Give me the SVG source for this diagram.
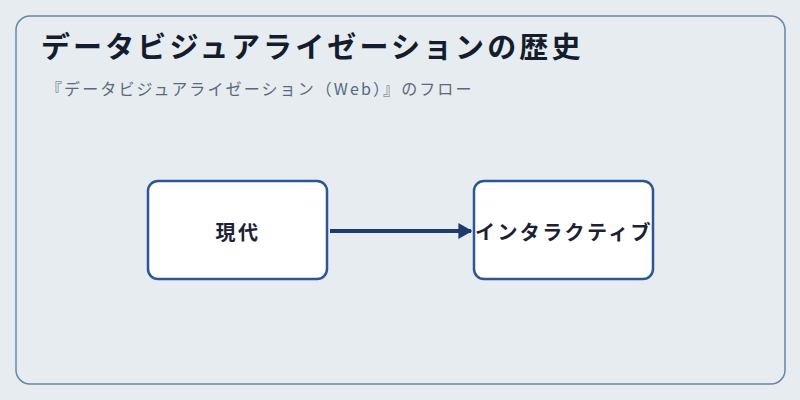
<svg xmlns="http://www.w3.org/2000/svg" width="800" height="400" viewBox="0 0 800 400">
<style>
.node rect{fill:#fff;stroke:#2f5597;stroke-width:2.5}
.lbl{font-family:"Noto Sans CJK JP","Noto Sans",sans-serif;font-weight:bold;font-size:20px;letter-spacing:2.4px;fill:#1a2233;text-anchor:middle;dominant-baseline:central}
</style>
<defs><marker id="ah" viewBox="0 0 10 10" refX="9" refY="5" markerWidth="14" markerHeight="16" markerUnits="userSpaceOnUse" orient="auto" preserveAspectRatio="none"><path d="M0,0L10,5L0,10z" fill="#1f3a6e"/></marker></defs>
<rect width="800" height="400" fill="#e7ecf1"/>
<rect x="16" y="16" width="769" height="368" rx="14" fill="#e7ecf1" stroke="#6b84ad" stroke-width="1.5"/>
<text x="41" y="58" font-family="'Noto Sans CJK JP',sans-serif" font-weight="bold" font-size="29" letter-spacing="3.1" fill="#131d2e">データビジュアライゼーションの歴史</text>
<text x="46" y="95" font-family="'Noto Sans CJK JP',sans-serif" font-size="16" letter-spacing="2.1" fill="#596a80">『データビジュアライゼーション（Web）』のフロー</text>
<g id="connectors"><line x1="330" y1="231" x2="471" y2="231" stroke="#1f3a6e" stroke-width="4" marker-end="url(#ah)"/></g>
<g id="n1" class="node"><rect x="148" y="181" width="179" height="98" rx="10"/><text class="lbl" x="238" y="231">現代</text></g>
<g id="n2" class="node"><rect x="474" y="181" width="179" height="98" rx="10"/><text class="lbl" x="564" y="231">インタラクティブ</text></g>
</svg>
